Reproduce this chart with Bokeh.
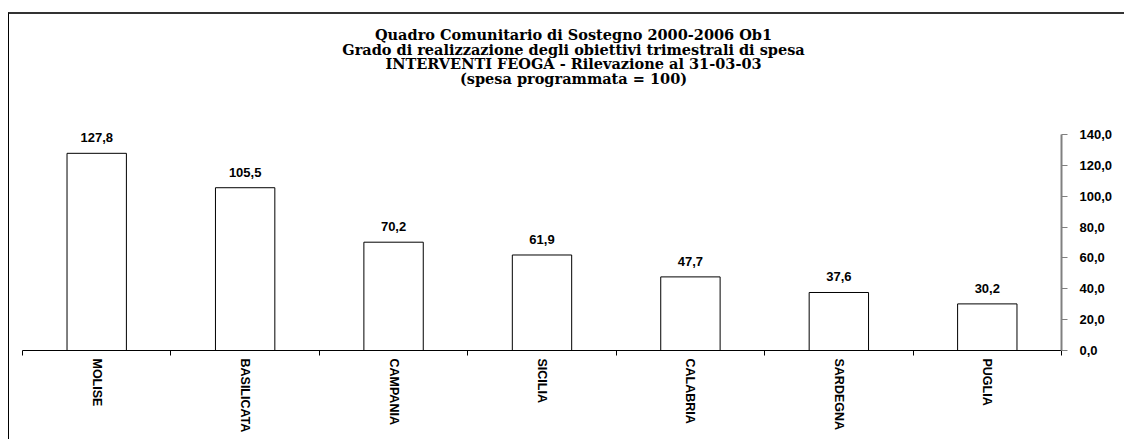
from bokeh.plotting import figure
from bokeh.models import (ColumnDataSource, FixedTicker, CustomJSTickFormatter,
                          LabelSet, Label, Range1d)
from bokeh.core.properties import value
from bokeh.embed import file_html
from bokeh.resources import INLINE

# ---- data ----
regions = ["MOLISE", "BASILICATA", "CAMPANIA", "SICILIA", "CALABRIA", "SARDEGNA", "PUGLIA"]
values = [127.8, 105.5, 70.2, 61.9, 47.7, 37.6, 30.2]
y_ticks = [0, 20, 40, 60, 80, 100, 120, 140]
title_lines = [
    "Quadro Comunitario di Sostegno 2000-2006 Ob1",
    "Grado di realizzazione degli obiettivi trimestrali di spesa",
    "INTERVENTI FEOGA - Rilevazione al 31-03-03",
    "(spesa programmata = 100)",
]

# ---- layout constants (pixels) ----
W, H = 1116, 427
B_LEFT, B_RIGHT, B_TOP, B_BOTTOM = 13, 64, 2, 91
AXIS_PX = 216            # pixel height of the 0..140 value axis
frame_h = H - B_TOP - B_BOTTOM
y_end = y_ticks[-1] * frame_h / AXIS_PX

n = len(regions)
xs = [i + 0.5 for i in range(n)]
source = ColumnDataSource(dict(
    x=xs,
    value=values,
    label=[f"{v:.1f}".replace(".", ",") for v in values],
))

p = figure(width=W, height=H, output_backend="svg", toolbar_location=None,
           x_range=Range1d(0, n), y_range=Range1d(0, y_end),
           y_axis_location="right",
           min_border_left=B_LEFT, min_border_right=B_RIGHT,
           min_border_top=B_TOP, min_border_bottom=B_BOTTOM)
p.styles = {"border-top": "2px solid #333333", "border-left": "1px solid #000000",
            "margin-top": "12px", "margin-left": "8px"}
p.background_fill_color = "white"
p.border_fill_color = "white"
p.outline_line_color = None
p.xgrid.visible = False
p.ygrid.visible = False

p.vbar(x="x", top="value", bottom=0, width=0.4, source=source,
       fill_color="white", line_color="black", line_width=1)

p.add_layout(LabelSet(x="x", y="value", text="label", source=source,
                      text_align="center", text_baseline="bottom", y_offset=11,
                      text_font=value("Liberation Sans"), text_font_style="bold",
                      text_font_size="13px", text_color="black"))

# x axis: boundary ticks as minor ticks, category labels at centers
xa = p.xaxis[0]
xa.ticker = FixedTicker(ticks=xs, minor_ticks=list(range(n + 1)))
xa.major_label_overrides = {x: r for x, r in zip(xs, regions)}
xa.major_tick_line_color = None
xa.major_tick_out = 0
xa.major_tick_in = 0
xa.minor_tick_line_color = "black"
xa.minor_tick_out = 5
xa.minor_tick_in = 0
xa.axis_line_color = "black"
xa.major_label_orientation = "vertical"
xa.major_label_standoff = 3
xa.major_label_text_font = "Liberation Sans"
xa.major_label_text_font_style = "bold"
xa.major_label_text_font_size = "12.5px"
xa.major_label_text_color = "black"

ya = p.yaxis[0]
ya.bounds = (y_ticks[0], y_ticks[-1])
ya.ticker = FixedTicker(ticks=y_ticks, minor_ticks=[])
ya.formatter = CustomJSTickFormatter(code="return tick.toFixed(1).replace('.', ',')")
ya.axis_line_color = "#808080"
ya.axis_line_width = 2
ya.major_tick_line_color = "#808080"
ya.major_tick_out = 6
ya.major_tick_in = 0
ya.minor_tick_line_color = None
ya.major_label_standoff = 12
ya.major_label_text_font = "Liberation Sans"
ya.major_label_text_font_style = "bold"
ya.major_label_text_font_size = "13px"
ya.major_label_text_color = "black"

for i, line in enumerate(title_lines):
    p.add_layout(Label(x=551, y=316 - 14.5 * i, x_units="screen", y_units="screen",
                       text=line, text_align="center", text_baseline="middle",
                       text_font="DejaVu Serif", text_font_style="bold",
                       text_font_size="14.5px", text_color="black"))

open("out.html", "w").write(file_html(p, INLINE))
